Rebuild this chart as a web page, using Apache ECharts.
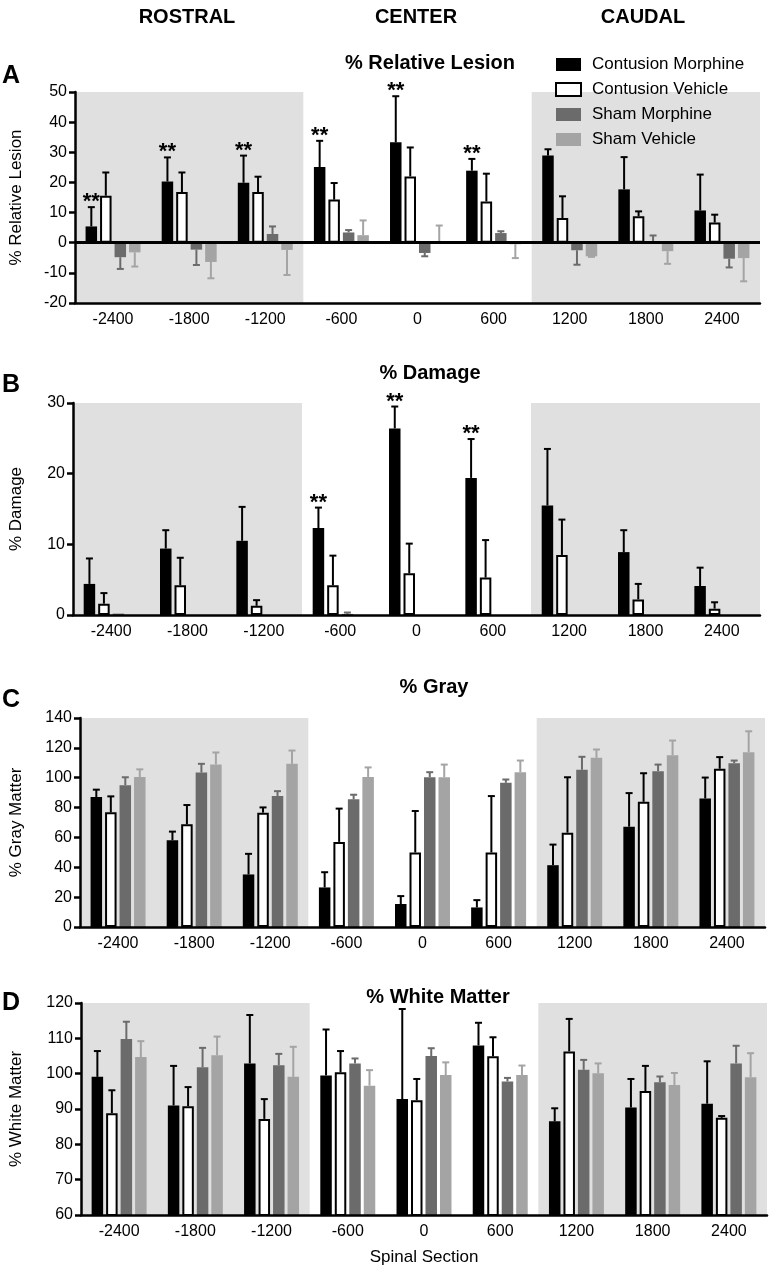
<!DOCTYPE html>
<html><head><meta charset="utf-8">
<script src="https://cdn.jsdelivr.net/npm/echarts@6/dist/echarts.min.js"></script>
<style>html,body{margin:0;padding:0;background:#fff}#c{width:771px;height:1269px}</style>
</head><body><div id="c"></div>
<script>
// ---------- DATA ----------
const sections = ['-2400','-1800','-1200','-600','0','600','1200','1800','2400'];
const groupNames = ['Contusion Morphine','Contusion Vehicle','Sham Morphine','Sham Vehicle'];
const shadedSections = [['-2400','-1200'],['1200','2400']];

// A: % Relative Lesion (mean, SEM)
const lesionContMorph    = [5.4, 20.3, 19.9, 25.1, 33.3, 23.9, 28.9, 17.7, 10.7];
const lesionContMorphSem = [6.4, 8.0, 9.0, 8.7, 15.3, 3.9, 2.1, 10.7, 11.9];
const lesionContVeh      = [15.6, 16.8, 16.8, 14.3, 22.0, 13.7, 8.2, 8.8, 6.7];
const lesionContVehSem   = [7.7, 6.5, 5.1, 5.5, 9.6, 9.2, 7.2, 1.6, 2.6];
const lesionShamMorph    = [-4.8, -2.3, 2.9, 3.4, -3.4, 3.2, -2.5, 0.5, -5.3];
const lesionShamMorphSem = [3.9, 5.1, 2.5, 0.8, 1.1, 0.6, 4.8, 1.9, 2.9];
const lesionShamVeh      = [-3.2, -6.4, -2.4, 2.5, 0.3, -0.5, -4.5, -2.8, -5.1];
const lesionShamVehSem   = [4.7, 5.4, 8.3, 4.9, 5.4, 4.6, 0.2, 4.2, 7.7];
const lesionSig          = [1, 1, 1, 1, 1, 1, 0, 0, 0];

// B: % Damage
const damageContMorph    = [4.4, 9.4, 10.5, 12.3, 26.4, 19.4, 15.5, 8.9, 4.1];
const damageContMorphSem = [3.6, 2.6, 4.8, 2.9, 3.1, 5.5, 8.0, 3.1, 2.6];
const damageContVeh      = [1.6, 4.2, 1.3, 4.2, 5.9, 5.3, 8.5, 2.2, 0.9];
const damageContVehSem   = [1.5, 3.9, 0.8, 4.2, 4.2, 5.3, 5.0, 2.2, 0.9];
const damageShamMorph    = [0.2, 0, 0, 0.15, 0, 0, 0, 0, 0];
const damageShamMorphSem = [0, 0, 0, 0.2, 0, 0, 0, 0, 0];
const damageShamVeh      = [0, 0, 0, 0, 0, 0, 0, 0, 0];
const damageShamVehSem   = [0, 0, 0, 0, 0, 0, 0, 0, 0];
const damageSig          = [0, 0, 0, 1, 1, 1, 0, 0, 0];

// C: % Gray Matter
const grayContMorph    = [87.0, 58.1, 35.2, 26.5, 15.4, 13.1, 41.4, 67.2, 86.1];
const grayContMorphSem = [5.0, 5.8, 13.8, 10.2, 5.3, 4.9, 13.8, 22.5, 14.0];
const grayContVeh      = [76.8, 68.8, 76.6, 57.0, 49.9, 49.9, 63.2, 83.9, 106.0];
const grayContVehSem   = [10.7, 12.9, 3.5, 22.3, 27.8, 37.8, 37.1, 19.1, 7.8];
const grayShamMorph    = [95.0, 103.5, 87.7, 85.5, 100.3, 96.6, 105.3, 104.4, 109.7];
const grayShamMorphSem = [5.3, 5.8, 3.3, 3.1, 3.4, 2.2, 8.7, 4.4, 1.8];
const grayShamVeh      = [100.5, 108.9, 109.3, 100.5, 100.3, 103.7, 113.3, 115.1, 117.1];
const grayShamVehSem   = [5.1, 8.0, 8.9, 6.4, 8.5, 7.8, 5.6, 9.8, 14.0];
const graySig          = [0, 0, 0, 0, 0, 0, 0, 0, 0];

// D: % White Matter
const whiteContMorph    = [99.1, 91.0, 102.9, 99.5, 92.8, 108.0, 86.5, 90.4, 91.5];
const whiteContMorphSem = [7.3, 11.2, 13.7, 13.0, 25.5, 6.4, 3.7, 8.1, 12.0];
const whiteContVeh      = [88.8, 90.8, 87.2, 100.4, 92.5, 104.9, 106.3, 95.1, 87.5];
const whiteContVehSem   = [6.5, 5.4, 5.6, 6.0, 6.0, 5.4, 9.2, 7.1, 0.5];
const whiteShamMorph    = [109.8, 101.8, 102.4, 102.9, 105.0, 97.8, 101.1, 97.6, 102.9];
const whiteShamMorphSem = [4.9, 5.5, 3.2, 1.4, 2.2, 1.0, 2.8, 1.6, 5.0];
const whiteShamVeh      = [104.7, 105.2, 99.1, 96.6, 99.6, 99.6, 100.1, 96.8, 99.0];
const whiteShamVehSem   = [4.5, 5.3, 8.5, 4.4, 3.6, 2.7, 2.8, 3.4, 6.8];
const whiteSig          = [0, 0, 0, 0, 0, 0, 0, 0, 0];

// ---------- CHART ----------
const FONT = '"Liberation Sans", Arial, Helvetica, sans-serif';
const BAR_W = 11.5, BAR_GAP_PCT = 0.26;
const STEP = BAR_W * (1 + BAR_GAP_PCT);
const barColors = ['#000000', '#ffffff', '#6b6b6b', '#a4a4a4'];
const errColors = ['#000000', '#000000', '#6b6b6b', '#a4a4a4'];
const AXW = 2.5;

const panels = [
  { letter: 'A', title: '% Relative Lesion', yName: '% Relative Lesion', min: -20, max: 50, interval: 10,
    grid: { left: 72, top: 92, width: 688, height: 211 }, nameGap: 50, titlePos: [430, 63], letterY: 76,
    means: [lesionContMorph, lesionContVeh, lesionShamMorph, lesionShamVeh],
    sems: [lesionContMorphSem, lesionContVehSem, lesionShamMorphSem, lesionShamVehSem], sig: lesionSig, zeroLine: true },
  { letter: 'B', title: '% Damage', yName: '% Damage', min: 0, max: 30, interval: 10,
    grid: { left: 72, top: 403, width: 688, height: 212 }, nameGap: 48, titlePos: [430, 373], letterY: 385,
    means: [damageContMorph, damageContVeh, damageShamMorph, damageShamVeh],
    sems: [damageContMorphSem, damageContVehSem, damageShamMorphSem, damageShamVehSem], sig: damageSig },
  { letter: 'C', title: '% Gray', yName: '% Gray Matter', min: 0, max: 140, interval: 20,
    grid: { left: 77, top: 718, width: 688, height: 209 }, nameGap: 55, titlePos: [434, 687], letterY: 700,
    means: [grayContMorph, grayContVeh, grayShamMorph, grayShamVeh],
    sems: [grayContMorphSem, grayContVehSem, grayShamMorphSem, grayShamVehSem], sig: graySig },
  { letter: 'D', title: '% White Matter', yName: '% White Matter', min: 60, max: 120, interval: 10,
    grid: { left: 81, top: 1003, width: 686, height: 212 }, nameGap: 56, titlePos: [438, 997], letterY: 1003,
    means: [whiteContMorph, whiteContVeh, whiteShamMorph, whiteShamVeh],
    sems: [whiteContMorphSem, whiteContVehSem, whiteShamMorphSem, whiteShamVehSem], sig: whiteSig, xName: 'Spinal Section' }
];

const grids = [], xAxes = [], yAxes = [], series = [];
const titles = [
  { text: 'ROSTRAL', left: 187, top: 17 },
  { text: 'CENTER', left: 416, top: 17 },
  { text: 'CAUDAL', left: 643, top: 17 }
].map(t => Object.assign(t, { textAlign: 'center', textVerticalAlign: 'middle', padding: 0,
  textStyle: { fontSize: 20, fontWeight: 'bold', color: '#000', fontFamily: FONT } }));

const shadeData = shadedSections.map(r => [sections.indexOf(r[0]), sections.indexOf(r[1])]);

panels.forEach((p, pi) => {
  grids.push(Object.assign({ containLabel: false }, p.grid));
  titles.push({ text: p.title, left: p.titlePos[0], top: p.titlePos[1], textAlign: 'center', textVerticalAlign: 'middle', padding: 0,
    textStyle: { fontSize: 20, fontWeight: 'bold', color: '#000', fontFamily: FONT } });
  titles.push({ text: p.letter, left: 11, top: p.letterY, textAlign: 'center', textVerticalAlign: 'middle', padding: 0,
    textStyle: { fontSize: 25, fontWeight: 'bold', color: '#000', fontFamily: FONT } });

  xAxes.push({
    type: 'category', gridIndex: pi, data: sections, z: 10,
    name: p.xName || '', nameLocation: 'middle', nameGap: 34,
    nameTextStyle: { fontSize: 17, color: '#000', fontFamily: FONT },
    axisLine: { onZero: false, lineStyle: { color: '#000', width: AXW } },
    axisTick: { alignWithLabel: true, length: 6, lineStyle: { color: '#000', width: AXW } },
    axisLabel: { color: '#000', fontSize: 16, fontFamily: FONT, margin: 9 },
    splitLine: { show: false }
  });
  yAxes.push({
    type: 'value', gridIndex: pi, min: p.min, max: p.max, interval: p.interval, z: 10,
    name: p.yName, nameLocation: 'middle', nameGap: p.nameGap,
    nameTextStyle: { fontSize: 17, color: '#000', fontFamily: FONT },
    axisLine: { show: true, lineStyle: { color: '#000', width: AXW } },
    axisTick: { show: true, length: 6, lineStyle: { color: '#000', width: AXW } },
    axisLabel: { color: '#000', fontSize: 16, fontFamily: FONT, margin: 8 },
    splitLine: { show: false }
  });

  // shaded regions
  const shade = {
    type: 'custom', xAxisIndex: pi, yAxisIndex: pi, z: 1, silent: true,
    data: shadeData,
    renderItem: (params, api) => {
      const cs = params.coordSys;
      const band = api.size([1, 0])[0];
      const x0 = api.coord([api.value(0), p.min])[0] - band / 2;
      const x1 = api.coord([api.value(1), p.min])[0] + band / 2;
      return { type: 'rect', shape: { x: x0, y: cs.y, width: x1 - x0, height: cs.height }, style: { fill: '#e0e0e0' } };
    }
  };
  if (p.zeroLine) {
    shade.markLine = { silent: true, symbol: 'none', label: { show: false }, z: 5,
      lineStyle: { color: '#000', width: 3, type: 'solid' }, data: [{ yAxis: 0 }] };
  }
  series.push(shade);

  for (let s = 0; s < 4; s++) {
    series.push({
      type: 'bar', name: groupNames[s], xAxisIndex: pi, yAxisIndex: pi, z: 3,
      barWidth: BAR_W, barGap: (BAR_GAP_PCT * 100) + '%',
      data: p.means[s],
      itemStyle: s === 1 ? { color: '#fff', borderColor: '#000', borderWidth: 2 } : { color: barColors[s] },
      emphasis: { disabled: true }
    });
  }
  for (let s = 0; s < 4; s++) {
    const data = p.means[s].map((m, i) => [i, m, p.sems[s][i], s === 0 ? p.sig[i] : 0]);
    series.push({
      type: 'custom', xAxisIndex: pi, yAxisIndex: pi, z: 4, silent: true,
      data: data,
      renderItem: (params, api) => {
        const i = api.value(0), m = api.value(1), e = api.value(2), sig = api.value(3);
        const end = m >= 0 ? m + e : m - e;
        const p0 = api.coord([i, m]);
        const p1 = api.coord([i, end]);
        const x = p0[0] + (s - 1.5) * STEP;
        const children = [];
        const st = { stroke: errColors[s], lineWidth: 2 };
        if (e > 0) {
          children.push({ type: 'line', shape: { x1: x, y1: p0[1], x2: x, y2: p1[1] }, style: st });
          children.push({ type: 'line', shape: { x1: x - 3.5, y1: p1[1], x2: x + 3.5, y2: p1[1] }, style: st });
        }
        if (sig) {
          children.push({ type: 'text', style: { text: '**', x: x, y: p1[1] - 5, align: 'center', verticalAlign: 'middle',
            textAlign: 'center', textVerticalAlign: 'middle', font: 'bold 22px ' + FONT, fill: '#000' } });
        }
        return { type: 'group', children };
      }
    });
  }
});

const chart = echarts.init(document.getElementById('c'), null, { renderer: 'canvas' });
chart.setOption({
  animation: false,
  backgroundColor: '#fff',
  title: titles,
  legend: {
    data: groupNames.map(n => ({ name: n, icon: 'rect' })),
    orient: 'vertical', left: 555, top: 56, padding: 0,
    itemWidth: 25, itemHeight: 13, itemGap: 8, selectedMode: false,
    textStyle: { fontSize: 17, color: '#000', fontFamily: FONT, padding: [0, 0, 0, 6] }
  },
  grid: grids, xAxis: xAxes, yAxis: yAxes, series: series
});
</script>
</body></html>
